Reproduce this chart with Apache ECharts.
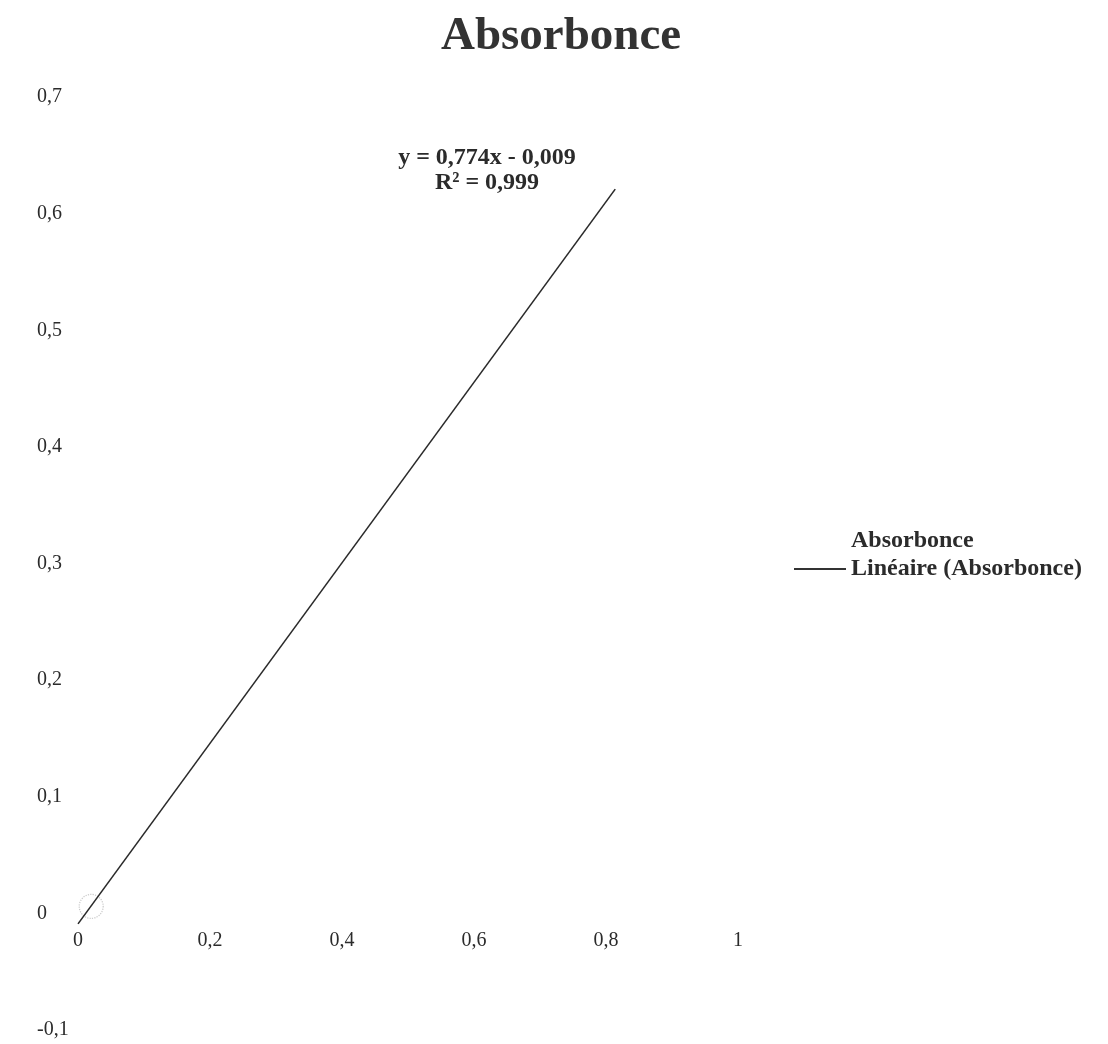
<!DOCTYPE html>
<html>
<head>
<meta charset="utf-8">
<script src="https://cdn.jsdelivr.net/npm/echarts@6/dist/echarts.min.js"></script>
<style>html,body{margin:0;padding:0;background:#fff}#c{width:1108px;height:1044px}</style>
</head>
<body>
<div id="c"></div>
<script>
const titleText = 'Absorbonce';
const pointName = 'Absorbonce';
const trendName = 'Linéaire (Absorbonce)';
const pointX = [0.02];
const pointY = [0.006];
const trendX = [0, 0.814];
const trendY = [-0.009, 0.621];
const equationLines = ['y = 0,774x - 0,009', 'R² = 0,999'];
const xTicks = [0, 0.2, 0.4, 0.6, 0.8, 1];
const yTicks = [-0.1, 0, 0.1, 0.2, 0.3, 0.4, 0.5, 0.6, 0.7];

const fmt = v => String(Math.round(v * 10) / 10).replace('.', ',');
const serif = '"Liberation Serif", "DejaVu Serif", serif';
const ink = '#2b2b2b';

const H = 1044, gridTop = 97, gridBottom = 14;
const yMin = yTicks[0], yMax = yTicks[yTicks.length - 1];
// move the x axis up to the y = 0 line
const xOffset = -((0 - yMin) / (yMax - yMin)) * (H - gridTop - gridBottom);

const chart = echarts.init(document.getElementById('c'), null, {renderer: 'canvas'});
chart.setOption({
  backgroundColor: '#fff',
  animation: false,
  title: {
    text: titleText, left: 436, top: 8,
    textStyle: {fontFamily: serif, fontSize: 47, fontWeight: 'bold', color: '#333'}
  },
  grid: {left: 78, right: 370, top: gridTop, bottom: gridBottom, outerBoundsMode: 'none', containLabel: false},
  xAxis: {
    type: 'value', min: xTicks[0], max: xTicks[xTicks.length - 1], interval: 0.2,
    position: 'bottom', offset: xOffset,
    axisLine: {show: false}, axisTick: {show: false}, splitLine: {show: false},
    axisLabel: {fontFamily: serif, fontSize: 20, color: ink, margin: 17, formatter: fmt}
  },
  yAxis: {
    type: 'value', min: yMin, max: yMax, interval: 0.1,
    axisLine: {show: false}, axisTick: {show: false}, splitLine: {show: false},
    axisLabel: {fontFamily: serif, fontSize: 20, color: ink, margin: 41, align: 'left', formatter: fmt}
  },
  legend: {
    orient: 'vertical', left: 788, top: 524, itemGap: 4,
    itemWidth: 52, itemHeight: 2,
    textStyle: {fontFamily: serif, fontSize: 24, fontWeight: 'bold', color: ink},
    data: [
      {name: pointName, icon: 'rect', itemStyle: {opacity: 0}},
      {name: trendName, icon: 'rect', itemStyle: {color: '#333'}}
    ]
  },
  series: [
    {
      name: pointName, type: 'scatter', symbol: 'circle', symbolSize: 24,
      itemStyle: {color: 'rgba(0,0,0,0)', borderColor: '#bbb', borderWidth: 1.2, borderType: 'dotted'},
      data: pointX.map((x, i) => [x, pointY[i]])
    },
    {
      name: trendName, type: 'line', symbol: 'none', color: '#333',
      lineStyle: {color: '#2a2a2a', width: 1.6},
      data: trendX.map((x, i) => [x, trendY[i]])
    }
  ],
  graphic: equationLines.map((t, i) => ({
    type: 'text', x: 487, y: 158 + i * 25,
    style: {
      text: t, fontFamily: serif, fontSize: 24, fontWeight: 'bold',
      fill: ink, align: 'center', verticalAlign: 'middle'
    }
  }))
});
</script>
</body>
</html>
